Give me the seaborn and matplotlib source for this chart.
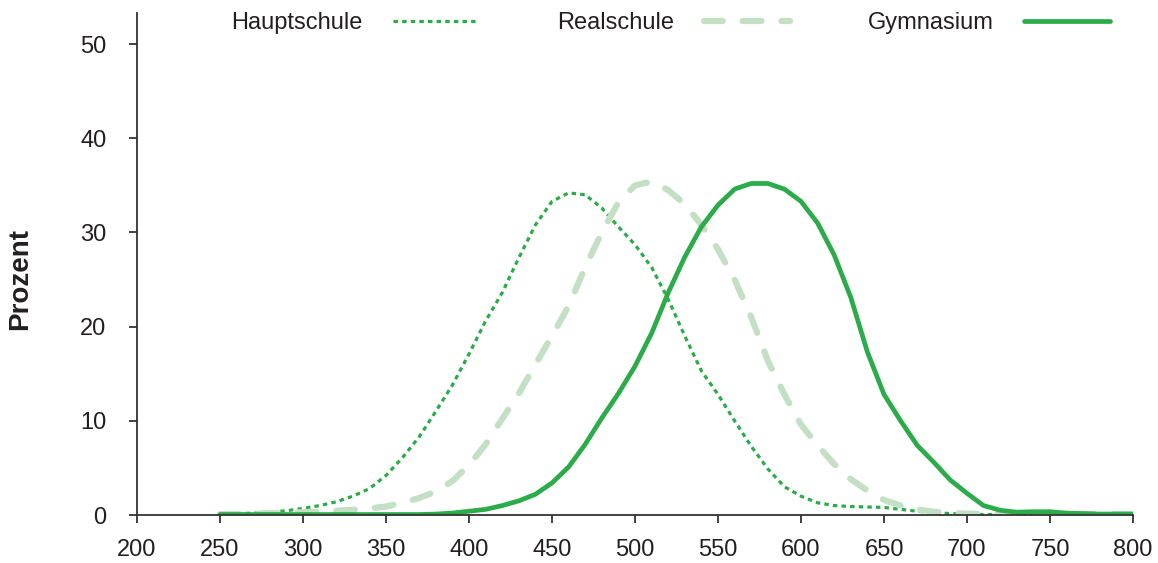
import numpy as np
import pandas as pd
import seaborn as sns
import matplotlib.pyplot as plt

# score points (x) and share of students in percent per school type
punkte = [250, 260, 270, 280, 290, 300, 310, 320, 330, 340, 350, 360, 370, 380, 390,
          400, 410, 420, 430, 440, 450, 460, 470, 480, 490, 500, 510, 520, 530, 540,
          550, 560, 570, 580, 590, 600, 610, 620, 630, 640, 650, 660, 670, 680, 690,
          700, 710, 720, 730, 740, 750, 760, 770, 780, 790, 800]

hauptschule = [0.1, 0.15, 0.2, 0.3, 0.45, 0.7, 1.0, 1.4, 2.0, 2.8, 4.2, 6.1, 8.3, 11.0, 13.8,
               17.1, 20.6, 23.6, 27.3, 30.8, 33.3, 34.2, 34.0, 32.6, 30.6, 28.7, 26.3, 22.9, 19.0, 15.3,
               12.8, 10.0, 7.3, 4.9, 3.0, 2.0, 1.3, 1.0, 0.9, 0.85, 0.8, 0.6, 0.4, 0.25, 0.15,
               0.1, 0.05, 0.05, 0.05, 0.05, 0.05, 0.05, 0.05, 0.05, 0.05, 0.05]

realschule = [0.1, 0.1, 0.15, 0.2, 0.25, 0.3, 0.35, 0.45, 0.55, 0.7, 0.9, 1.3, 1.8, 2.5, 3.6,
              5.3, 7.5, 10.2, 12.9, 16.0, 19.0, 22.2, 26.3, 30.0, 33.2, 35.0, 35.4, 34.5, 33.0, 30.8,
              28.2, 25.0, 21.0, 16.4, 12.8, 9.6, 7.4, 5.4, 3.8, 2.6, 1.6, 1.0, 0.6, 0.35, 0.2,
              0.15, 0.1, 0.1, 0.1, 0.1, 0.1, 0.1, 0.1, 0.1, 0.1, 0.1]

gymnasium = [0.05, 0.05, 0.05, 0.05, 0.05, 0.05, 0.05, 0.05, 0.05, 0.05, 0.05, 0.05, 0.05, 0.1, 0.2,
             0.4, 0.6, 1.0, 1.5, 2.2, 3.4, 5.1, 7.5, 10.3, 12.9, 15.8, 19.3, 23.6, 27.4, 30.6,
             32.9, 34.6, 35.2, 35.2, 34.6, 33.3, 31.0, 27.6, 23.1, 17.3, 12.8, 10.0, 7.4, 5.6, 3.7,
             2.3, 1.0, 0.5, 0.3, 0.35, 0.35, 0.2, 0.15, 0.1, 0.1, 0.1]

gruen = "#2BAB4A"
hellgruen = "#C4E0C4"
textfarbe = "#231F20"

sns.set_theme(style="ticks")
plt.rcParams["font.family"] = ["Liberation Sans", "DejaVu Sans"]

df = pd.DataFrame({"punkte": punkte, "Hauptschule": hauptschule,
                   "Realschule": realschule, "Gymnasium": gymnasium})

fig = plt.figure(figsize=(11.58, 5.63), dpi=100)
ax = fig.add_axes([137 / 1158, 48 / 563, 996 / 1158, 502 / 563])

sns.lineplot(data=df, x="punkte", y="Hauptschule", ax=ax, color=gruen, lw=2.3,
             linestyle=(0, (1.4, 1.3)), label="Hauptschule")
sns.lineplot(data=df, x="punkte", y="Realschule", ax=ax, color=hellgruen, lw=4.5,
             linestyle=(0, (3.0, 3.2)), dash_capstyle="round", label="Realschule")
sns.lineplot(data=df, x="punkte", y="Gymnasium", ax=ax, color=gruen, lw=3.4,
             solid_joinstyle="round", label="Gymnasium")

ax.set_xlim(200, 800)
ax.set_ylim(0, 53.3)
ax.set_xticks(range(200, 801, 50))
ax.set_yticks(range(0, 51, 10))
ax.set_xlabel("")
ax.set_ylabel("Prozent", fontsize=20, fontweight="bold", color=textfarbe)
ax.yaxis.set_label_coords(-0.104, 0.47)
sns.despine(ax=ax)
for s in ["left", "bottom"]:
    ax.spines[s].set_color("#333333")
    ax.spines[s].set_linewidth(1.3)
ax.tick_params(axis="both", labelsize=17, colors="#333333", labelcolor=textfarbe,
               length=6, width=1.3)
ax.tick_params(axis="x", pad=11)
ax.tick_params(axis="y", pad=16)

ax.get_legend().remove()
handles, labels = ax.get_legend_handles_labels()
fig.legend(handles, labels, loc="center", bbox_to_anchor=(0.579, 0.959), ncol=3,
           frameon=False, markerfirst=False, fontsize=17, handlelength=3.65,
           handletextpad=1.27, columnspacing=3.3, labelcolor=textfarbe)

fig.savefig("out.png", dpi=100)
